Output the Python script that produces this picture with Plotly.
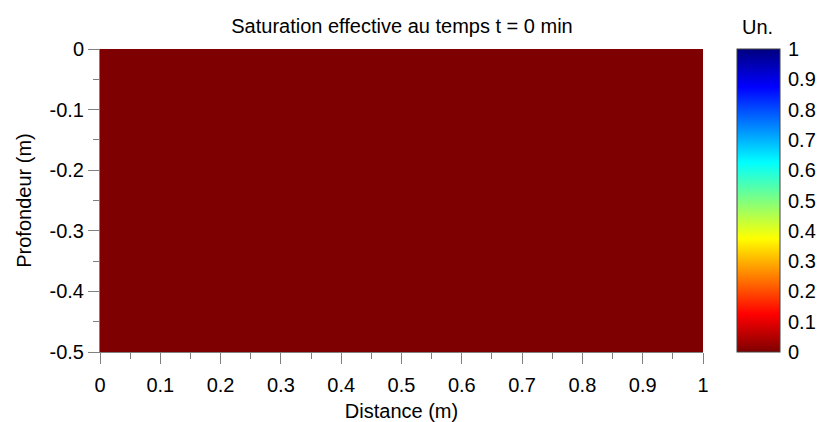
import plotly.graph_objects as go

# Data
distance_edges = [0.0, 0.25, 0.5, 0.75, 1.0]          # m
depth_edges = [-0.5, -0.25, 0.0]                        # m
saturation = [[0, 0, 0, 0],
              [0, 0, 0, 0]]                              # effective saturation (Un.)

x_tickvals = [0, 0.1, 0.2, 0.3, 0.4, 0.5, 0.6, 0.7, 0.8, 0.9, 1]
x_ticktext = ["0", "0.1", "0.2", "0.3", "0.4", "0.5", "0.6", "0.7", "0.8", "0.9", "1"]
y_tickvals = [0, -0.1, -0.2, -0.3, -0.4, -0.5]
y_ticktext = ["0", "-0.1", "-0.2", "-0.3", "-0.4", "-0.5"]
cb_tickvals = [0, 0.1, 0.2, 0.3, 0.4, 0.5, 0.6, 0.7, 0.8, 0.9, 1]
cb_ticktext = ["0", "0.1", "0.2", "0.3", "0.4", "0.5", "0.6", "0.7", "0.8", "0.9", "1"]

jet_r = [
    [0.0, "#7F0000"],
    [0.125, "#FF0000"],
    [0.375, "#FFFF00"],
    [0.625, "#00FFFF"],
    [0.875, "#0000FF"],
    [1.0, "#00007F"],
]

FONT = "Liberation Sans, Arial, sans-serif"
FS = 20
PLOT_L, PLOT_R, PLOT_T, PLOT_B = 100, 703, 49, 352
PW = PLOT_R - PLOT_L
CB_L, CB_W = 737, 43

fig = go.Figure(go.Heatmap(
    x=distance_edges, y=depth_edges, z=saturation,
    zmin=0, zmax=1, colorscale=jet_r,
    colorbar=dict(
        x=(CB_L - PLOT_L) / PW, xanchor="left",
        y=0.5, yanchor="middle", len=1, lenmode="fraction",
        thickness=CB_W, thicknessmode="pixels",
        outlinewidth=1, outlinecolor="#404040",
        ticks="outside", ticklen=4, tickcolor="rgba(0,0,0,0)",
        tickvals=cb_tickvals, ticktext=cb_ticktext,
        tickfont=dict(family=FONT, size=FS, color="#000"),
        xpad=0, ypad=0,
    ),
    showscale=True,
))

axis_common = dict(
    showline=True, linecolor="#808080", linewidth=1,
    ticks="outside", ticklen=11, tickcolor="#808080", tickwidth=1,
    tickfont=dict(family=FONT, size=FS, color="#000"),
    showgrid=False, zeroline=False,
)

fig.update_xaxes(
    range=[0, 1], tickvals=x_tickvals, ticktext=x_ticktext,
    minor=dict(ticks="outside", ticklen=6, tickcolor="#808080", dtick=0.05, tick0=0, showgrid=False),
    title=dict(text="Distance (m)", font=dict(family=FONT, size=FS, color="#000"), standoff=9),
    ticklabelstandoff=4,
    **axis_common,
)
fig.update_yaxes(
    range=[-0.5, 0], tickvals=y_tickvals, ticktext=y_ticktext,
    minor=dict(ticks="outside", ticklen=6, tickcolor="#808080", dtick=0.05, tick0=0, showgrid=False),
    title=dict(text="Profondeur (m)", font=dict(family=FONT, size=FS, color="#000"), standoff=12),
    **axis_common,
)

# small inside ticks on both edges of the colorbar
cb_x0 = (CB_L - PLOT_L) / PW
cb_x1 = (CB_L + CB_W - PLOT_L) / PW
tk = 4 / PW
shapes = []
for v in cb_tickvals[1:-1]:
    shapes.append(dict(type="line", xref="paper", yref="paper",
                       x0=cb_x0, x1=cb_x0 + tk, y0=v, y1=v,
                       line=dict(color="#303030", width=1)))
    shapes.append(dict(type="line", xref="paper", yref="paper",
                       x0=cb_x1 - tk, x1=cb_x1, y0=v, y1=v,
                       line=dict(color="#303030", width=1)))

fig.update_layout(
    width=818, height=422,
    margin=dict(l=PLOT_L, r=818 - PLOT_R, t=PLOT_T, b=422 - PLOT_B, autoexpand=False),
    paper_bgcolor="white", plot_bgcolor="white",
    title=dict(text="Saturation effective au temps t = 0 min",
               font=dict(family=FONT, size=FS, color="#000"),
               x=402 / 818, xanchor="center", y=1 - 26 / 422, yanchor="middle"),
    annotations=[dict(text="Un.", xref="paper", yref="paper",
                      x=(757 - PLOT_L) / PW, y=1 + (PLOT_T - 27) / 303,
                      xanchor="center", yanchor="middle", showarrow=False,
                      font=dict(family=FONT, size=FS, color="#000"))],
    shapes=shapes,
)

fig.write_html("out.html")
